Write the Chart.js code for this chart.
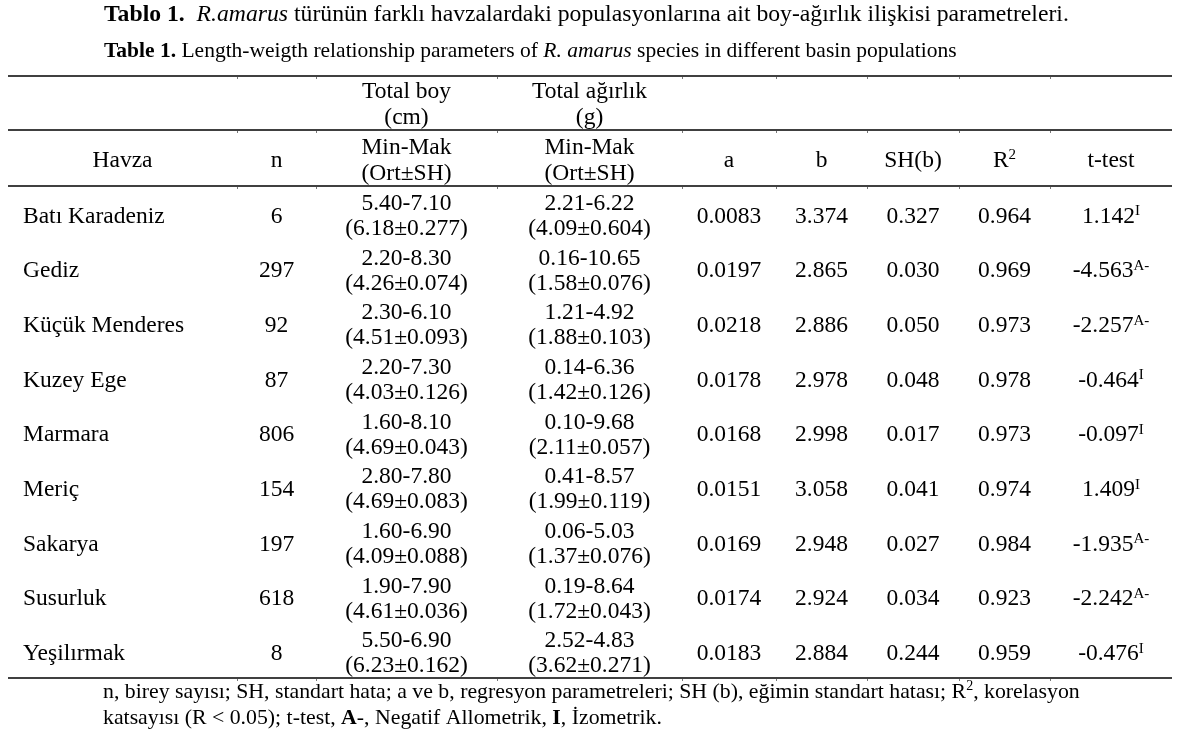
<!DOCTYPE html>
<html>
<head>
<meta charset="utf-8">
<script src="https://cdn.jsdelivr.net/npm/chart.js@4/dist/chart.umd.min.js"></script>
<style>
  body { margin: 0; background: #fff; }
  #wrap { width: 1189px; height: 748px; }
</style>
</head>
<body>
<div id="wrap"><canvas id="table" width="1189" height="748"></canvas></div>
<script>
// table data
const havza = ['Batı Karadeniz', 'Gediz', 'Küçük Menderes', 'Kuzey Ege', 'Marmara', 'Meriç', 'Sakarya', 'Susurluk', 'Yeşilırmak'];
const nValues = [6, 297, 92, 87, 806, 154, 197, 618, 8];
const lengthRange = ['5.40-7.10', '2.20-8.30', '2.30-6.10', '2.20-7.30', '1.60-8.10', '2.80-7.80', '1.60-6.90', '1.90-7.90', '5.50-6.90'];
const lengthMean = ['6.18±0.277', '4.26±0.074', '4.51±0.093', '4.03±0.126', '4.69±0.043', '4.69±0.083', '4.09±0.088', '4.61±0.036', '6.23±0.162'];
const weightRange = ['2.21-6.22', '0.16-10.65', '1.21-4.92', '0.14-6.36', '0.10-9.68', '0.41-8.57', '0.06-5.03', '0.19-8.64', '2.52-4.83'];
const weightMean = ['4.09±0.604', '1.58±0.076', '1.88±0.103', '1.42±0.126', '2.11±0.057', '1.99±0.119', '1.37±0.076', '1.72±0.043', '3.62±0.271'];
const aValues = [0.0083, 0.0197, 0.0218, 0.0178, 0.0168, 0.0151, 0.0169, 0.0174, 0.0183];
const bValues = [3.374, 2.865, 2.886, 2.978, 2.998, 3.058, 2.948, 2.924, 2.884];
const seB = [0.327, 0.030, 0.050, 0.048, 0.017, 0.041, 0.027, 0.034, 0.244];
const r2 = [0.964, 0.969, 0.973, 0.978, 0.973, 0.974, 0.984, 0.923, 0.959];
const tTest = [1.142, -4.563, -2.257, -0.464, -0.097, 1.409, -1.935, -2.242, -0.476];
const tType = ['I', 'A-', 'A-', 'I', 'I', 'I', 'A-', 'A-', 'I'];

// layout (table units along x)
const colWidths = [229, 79, 181, 185, 94, 91, 92, 91, 122];
const TABLE_W = colWidths.reduce((s, w) => s + w, 0);
const colEdges = colWidths.reduce((acc, w) => { acc.push(acc[acc.length - 1] + w); return acc; }, [0]);

const SERIF = '"Liberation Serif", "Times New Roman", serif';
const font = (size, style = '') => `${style} ${size}px ${SERIF}`.trim();
const BODY = 23.5;
const TITLE = 23.7;
const SUBTITLE = 21.5;
const SUP = 15;
const NOTE = 21.8;

// draws a list of text runs: {t, size, style, sup}
const drawRuns = (ctx, runs, x, y, align) => {
  const widths = runs.map(r => { ctx.font = font(r.size, r.style); return ctx.measureText(r.t).width; });
  const total = widths.reduce((s, w) => s + w, 0);
  let cx = align === 'center' ? x - total / 2 : x;
  ctx.textAlign = 'left';
  ctx.textBaseline = 'middle';
  runs.forEach((r, i) => {
    ctx.font = font(r.size, r.style);
    ctx.fillText(r.t, cx, y + (r.sup ? -r.sup : 0));
    cx += widths[i];
  });
};

const tablePlugin = {
  id: 'tablePlugin',
  beforeDraw(chart) {
    const ctx = chart.ctx;
    ctx.save();
    ctx.fillStyle = '#fff';
    ctx.fillRect(0, 0, chart.width, chart.height);
    ctx.restore();
  },
  afterDraw(chart) {
    const ctx = chart.ctx;
    const x = chart.scales.x, y = chart.scales.y;
    const top = chart.chartArea.top, bottom = chart.chartArea.bottom;
    const left = x.getPixelForValue(0), right = x.getPixelForValue(TABLE_W);
    const colX = i => x.getPixelForValue(colEdges[i] + colWidths[i] / 2);
    ctx.save();
    ctx.fillStyle = '#000';

    // captions
    drawRuns(ctx, [
      {t: 'Tablo 1.', size: TITLE, style: 'bold'},
      {t: '  ', size: TITLE},
      {t: 'R.amarus', size: TITLE, style: 'italic'},
      {t: ' türünün farklı havzalardaki populasyonlarına ait boy-ağırlık ilişkisi parametreleri.', size: TITLE}
    ], 104, top - 171, 'left');
    drawRuns(ctx, [
      {t: 'Table 1.', size: SUBTITLE, style: 'bold'},
      {t: ' Length-weigth relationship parameters of ', size: SUBTITLE},
      {t: 'R. amarus', size: SUBTITLE, style: 'italic'},
      {t: ' species in different basin populations', size: SUBTITLE}
    ], 104, top - 135, 'left');

    // rules
    ctx.strokeStyle = '#000';
    ctx.lineWidth = 1.5;
    [top - 110, top - 56, top, bottom].forEach(ry => {
      ctx.beginPath();
      ctx.moveTo(left, ry);
      ctx.lineTo(right, ry);
      ctx.stroke();
      ctx.fillStyle = '#777';
      colEdges.slice(1, -1).forEach(e => ctx.fillRect(Math.round(x.getPixelForValue(e)), ry + 1, 1, 2));
    });
    ctx.fillStyle = '#000';

    // header
    drawRuns(ctx, [{t: 'Total boy', size: BODY}], colX(2), top - 94, 'center');
    drawRuns(ctx, [{t: '(cm)', size: BODY}], colX(2), top - 68, 'center');
    drawRuns(ctx, [{t: 'Total ağırlık', size: BODY}], colX(3), top - 94, 'center');
    drawRuns(ctx, [{t: '(g)', size: BODY}], colX(3), top - 68, 'center');
    [2, 3].forEach(c => {
      drawRuns(ctx, [{t: 'Min-Mak', size: BODY}], colX(c), top - 38, 'center');
      drawRuns(ctx, [{t: '(Ort±SH)', size: BODY}], colX(c), top - 12, 'center');
    });
    const hy = top - 25;
    drawRuns(ctx, [{t: 'Havza', size: BODY}], colX(0), hy, 'center');
    drawRuns(ctx, [{t: 'n', size: BODY}], colX(1), hy, 'center');
    drawRuns(ctx, [{t: 'a', size: BODY}], colX(4), hy, 'center');
    drawRuns(ctx, [{t: 'b', size: BODY}], colX(5), hy, 'center');
    drawRuns(ctx, [{t: 'SH(b)', size: BODY}], colX(6), hy, 'center');
    drawRuns(ctx, [{t: 'R', size: BODY}, {t: '2', size: SUP, sup: 6}], colX(7), hy, 'center');
    drawRuns(ctx, [{t: 't-test', size: BODY}], colX(8), hy, 'center');

    // body
    havza.forEach((name, i) => {
      const cy = y.getPixelForValue(i) + 3;
      drawRuns(ctx, [{t: name, size: BODY}], x.getPixelForValue(15), cy, 'left');
      drawRuns(ctx, [{t: String(nValues[i]), size: BODY}], colX(1), cy, 'center');
      drawRuns(ctx, [{t: lengthRange[i], size: BODY}], colX(2), cy - 12.5, 'center');
      drawRuns(ctx, [{t: '(' + lengthMean[i] + ')', size: BODY}], colX(2), cy + 12.5, 'center');
      drawRuns(ctx, [{t: weightRange[i], size: BODY}], colX(3), cy - 12.5, 'center');
      drawRuns(ctx, [{t: '(' + weightMean[i] + ')', size: BODY}], colX(3), cy + 12.5, 'center');
      drawRuns(ctx, [{t: aValues[i].toFixed(4), size: BODY}], colX(4), cy, 'center');
      drawRuns(ctx, [{t: bValues[i].toFixed(3), size: BODY}], colX(5), cy, 'center');
      drawRuns(ctx, [{t: seB[i].toFixed(3), size: BODY}], colX(6), cy, 'center');
      drawRuns(ctx, [{t: r2[i].toFixed(3), size: BODY}], colX(7), cy, 'center');
      drawRuns(ctx, [{t: tTest[i].toFixed(3), size: BODY}, {t: tType[i], size: SUP, sup: 5}], colX(8), cy, 'center');
    });

    // footnote
    drawRuns(ctx, [
      {t: 'n, birey sayısı; SH, standart hata; a ve b, regresyon parametreleri; SH (b), eğimin standart hatası; R', size: NOTE},
      {t: '2', size: 14, sup: 6},
      {t: ', korelasyon', size: NOTE}
    ], 103, bottom + 14, 'left');
    drawRuns(ctx, [
      {t: 'katsayısı (R < 0.05); t-test, ', size: NOTE},
      {t: 'A', size: NOTE, style: 'bold'},
      {t: '-, Negatif Allometrik, ', size: NOTE},
      {t: 'I', size: NOTE, style: 'bold'},
      {t: ', İzometrik.', size: NOTE}
    ], 103, bottom + 40, 'left');
    ctx.restore();
  }
};

new Chart(document.getElementById('table'), {
  type: 'scatter',
  data: { labels: havza, datasets: [] },
  options: {
    responsive: false,
    animation: false,
    layout: { padding: { left: 8, right: 17, top: 186, bottom: 70 } },
    plugins: { legend: { display: false }, tooltip: { enabled: false }, title: { display: false } },
    scales: {
      x: { type: 'linear', min: 0, max: TABLE_W, display: false },
      y: { type: 'category', labels: havza, offset: true, display: false }
    }
  },
  plugins: [tablePlugin]
});
</script>
</body>
</html>
